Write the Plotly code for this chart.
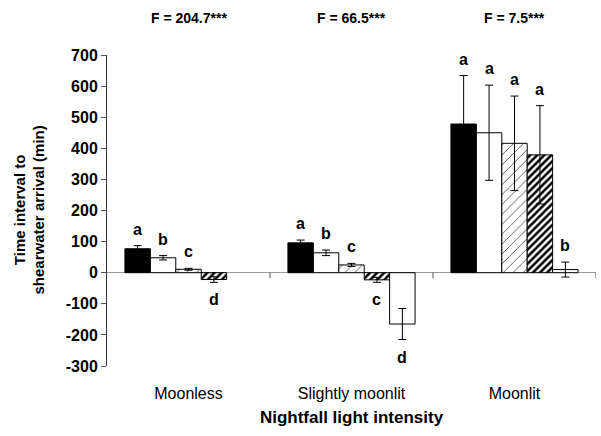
import plotly.graph_objects as go

categories = ["Moonless", "Slightly moonlit", "Moonlit"]
f_labels = ["F = 204.7***", "F = 66.5***", "F = 7.5***"]

# five series (bars within each group); None = no bar
s1_vals = [77, 96, 478]
s1_err = [10, 9, 156]
s1_let = ["a", "a", "a"]
s2_vals = [48, 64, 450]
s2_err = [7, 9, 153]
s2_let = ["b", "b", "a"]
s3_vals = [11, 25, 416]
s3_err = [3, 5, 152]
s3_let = ["c", "c", "a"]
s4_vals = [-22, -23, 379]
s4_err = [9, 8, 158]
s4_let = ["d", "c", "a"]
s5_vals = [None, -165, 10]
s5_err = [None, 50, 24]
s5_let = [None, "d", "b"]

y_ticks = [700, 600, 500, 400, 300, 200, 100, 0, -100, -200, -300]
y_tick_labels = ["700", "600", "500", "400", "300", "200", "100", "0", "-100", "-200", "-300"]

FONT = "Liberation Sans, Arial, sans-serif"
x = [0, 1, 2]

styles = [
    dict(color="black", pattern=None),
    dict(color="white", pattern=None),
    dict(color="white", pattern=dict(shape="/", size=7, solidity=0.1, fgcolor="#222", fgopacity=1,
                                     bgcolor="white", fillmode="overlay")),
    dict(color="white", pattern=dict(shape="/", size=5, solidity=0.5, fgcolor="black", fgopacity=1,
                                     bgcolor="white", fillmode="overlay")),
    dict(color="white", pattern=None),
]
series = [
    (s1_vals, s1_err, s1_let),
    (s2_vals, s2_err, s2_let),
    (s3_vals, s3_err, s3_let),
    (s4_vals, s4_err, s4_let),
    (s5_vals, s5_err, s5_let),
]

fig = go.Figure()
for (vals, errs, lets), st in zip(series, styles):
    marker = dict(color=st["color"], line=dict(color="black", width=1))
    if st["pattern"] is not None:
        marker["pattern"] = st["pattern"]
    fig.add_trace(go.Bar(
        x=x, y=vals, marker=marker,
        error_y=dict(type="data", array=errs, visible=True, color="black", thickness=1, width=4),
        showlegend=False,
    ))

fig.update_layout(
    barmode="group", bargap=0.22, bargroupgap=0,
    width=601, height=436,
    margin=dict(l=107, r=5, t=55, b=70, autoexpand=False),
    plot_bgcolor="white", paper_bgcolor="white",
    font=dict(family=FONT, color="black"),
)

fig.update_xaxes(
    range=[-0.5, 2.5], tickvals=x, ticktext=categories, automargin=False,
    showline=False, showgrid=False, zeroline=False, ticks="",
    tickfont=dict(size=16), ticklabelstandoff=16,
    title=dict(text="<b>Nightfall light intensity</b>", font=dict(size=17), standoff=10),
)
fig.update_yaxes(
    range=[-300, 700], tickvals=y_ticks, ticktext=["<b>%s</b>" % t for t in y_tick_labels],
    automargin=False,
    showline=True, linecolor="#333", linewidth=1,
    ticks="outside", ticklen=5, tickcolor="#555",
    showgrid=False, zeroline=True, zerolinecolor="#999", zerolinewidth=1,
    tickfont=dict(size=16, family=FONT),
)

# y axis title
fig.add_annotation(xref="paper", yref="paper", x=0, y=0.5, xshift=-78, xanchor="center",
                   yanchor="middle", textangle=-90,
                   text="<b>Time interval to<br>shearwater arrival (min)</b>", showarrow=False,
                   font=dict(size=15, family=FONT))

# category divider ticks on zero line
for b in [0.5, 1.5, 2.5]:
    fig.add_shape(type="line", xref="x", yref="y", x0=b, x1=b, y0=0, y1=-18,
                  line=dict(color="#555", width=1))

# significance letters
n = 5
w = (1 - 0.22) / n
for i, (vals, errs, lets) in enumerate(series):
    for j in range(3):
        v = vals[j]
        if v is None:
            continue
        xpos = j - 0.39 + w * (i + 0.5)
        if v >= 0:
            fig.add_annotation(x=xpos, y=v + errs[j], text="<b>%s</b>" % lets[j], showarrow=False,
                               yanchor="bottom", yshift=6, font=dict(size=16, family=FONT))
        else:
            fig.add_annotation(x=xpos, y=v - errs[j], text="<b>%s</b>" % lets[j], showarrow=False,
                               yanchor="top", yshift=-7, font=dict(size=16, family=FONT))

for j, t in enumerate(f_labels):
    fig.add_annotation(x=j, y=1, xref="x", yref="paper", text="<b>%s</b>" % t, showarrow=False,
                       yanchor="middle", yshift=37, font=dict(size=14, family=FONT))

fig.write_html("out.html", config={"displayModeBar": False},
               post_script="document.body.style.margin='0';document.body.style.padding='0';")
